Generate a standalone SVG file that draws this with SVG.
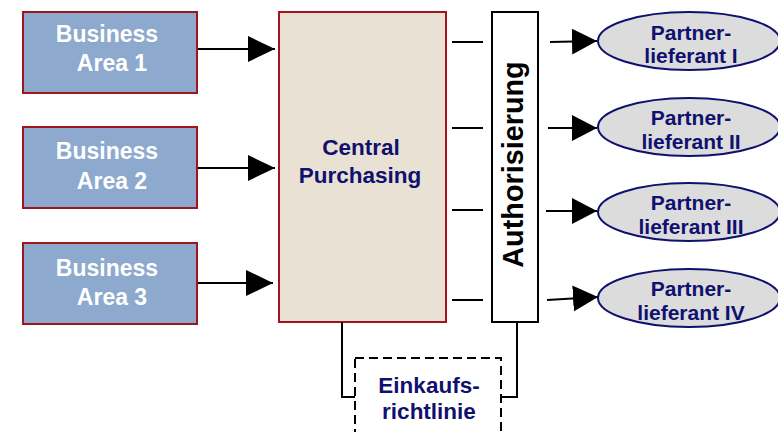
<svg xmlns="http://www.w3.org/2000/svg" width="778" height="432" viewBox="0 0 778 432">
  <style>
    .area { fill: #8DA9CD; stroke: #A0141E; stroke-width: 2; }
    .area-text { font-family: "Liberation Sans", Arial, sans-serif; font-weight: bold; font-size: 23px; fill: #FFFFFF; text-anchor: middle; }
    .navy-text { font-family: "Liberation Sans", Arial, sans-serif; font-weight: bold; fill: #10106E; text-anchor: middle; }
    .partner { fill: #DCDCDC; stroke: #10106E; stroke-width: 2; }
    .link { stroke: #000000; stroke-width: 2; fill: none; }
  </style>
  <defs>
    <marker id="head" markerWidth="27" markerHeight="26" refX="27" refY="13" orient="auto" markerUnits="userSpaceOnUse">
      <path d="M0,0 L27,13 L0,26 Z" fill="#000000"/>
    </marker>
    <marker id="head-small" markerWidth="25" markerHeight="26" refX="25" refY="13" orient="auto" markerUnits="userSpaceOnUse">
      <path d="M0,0 L25,13 L0,26 Z" fill="#000000"/>
    </marker>
  </defs>

  <!-- business areas -->
  <g id="area1">
    <rect class="area" x="23" y="12" width="174" height="81"/>
    <text class="area-text" x="107" y="42">Business</text>
    <text class="area-text" x="112" y="71">Area 1</text>
  </g>
  <g id="area2">
    <rect class="area" x="23" y="127" width="174" height="81"/>
    <text class="area-text" x="107" y="159">Business</text>
    <text class="area-text" x="112" y="189">Area 2</text>
  </g>
  <g id="area3">
    <rect class="area" x="23" y="243" width="174" height="81"/>
    <text class="area-text" x="107" y="276">Business</text>
    <text class="area-text" x="112" y="305">Area 3</text>
  </g>

  <!-- central purchasing -->
  <g id="central">
    <rect x="279" y="12" width="167" height="310" fill="#E9E1D3" stroke="#A0141E" stroke-width="2"/>
    <text class="navy-text" x="361" y="155" font-size="22.5">Central</text>
    <text class="navy-text" x="360" y="183" font-size="22.5">Purchasing</text>
  </g>

  <!-- authorisation -->
  <g id="auth">
    <rect x="492" y="12" width="46" height="310" fill="#FFFFFF" stroke="#000000" stroke-width="2"/>
    <text x="523" y="164.5" transform="rotate(-90 523 164.5)" font-family="Liberation Sans, Arial, sans-serif" font-weight="bold" font-size="28.8" fill="#000000" text-anchor="middle">Authorisierung</text>
  </g>

  <!-- partner suppliers -->
  <g id="partner1">
    <ellipse class="partner" cx="689" cy="41" rx="91" ry="29"/>
    <text class="navy-text" x="691" y="40" font-size="21">Partner-</text>
    <text class="navy-text" x="691" y="63" font-size="21">lieferant I</text>
  </g>
  <g id="partner2">
    <ellipse class="partner" cx="689" cy="127" rx="91" ry="29"/>
    <text class="navy-text" x="691" y="125" font-size="21">Partner-</text>
    <text class="navy-text" x="691" y="149" font-size="21">lieferant II</text>
  </g>
  <g id="partner3">
    <ellipse class="partner" cx="689" cy="212" rx="91" ry="29"/>
    <text class="navy-text" x="691" y="210" font-size="21">Partner-</text>
    <text class="navy-text" x="691" y="234" font-size="21">lieferant III</text>
  </g>
  <g id="partner4">
    <ellipse class="partner" cx="689" cy="298" rx="91" ry="29"/>
    <text class="navy-text" x="691" y="296" font-size="21">Partner-</text>
    <text class="navy-text" x="691" y="320" font-size="21">lieferant IV</text>
  </g>

  <!-- purchasing guideline -->
  <g id="guideline">
    <rect x="355" y="358" width="146" height="90" fill="#FFFFFF" stroke="#000000" stroke-width="2" stroke-dasharray="9 5"/>
    <text class="navy-text" x="429" y="393" font-size="22.5">Einkaufs-</text>
    <text class="navy-text" x="429" y="419" font-size="22.5">richtlinie</text>
  </g>

  <!-- connectors -->
  <g id="connectors">
    <line class="link" x1="198" y1="49" x2="275" y2="49" marker-end="url(#head)"/>
    <line class="link" x1="198" y1="168" x2="275" y2="168" marker-end="url(#head)"/>
    <line class="link" x1="198" y1="283" x2="273" y2="283" marker-end="url(#head)"/>

    <line class="link" x1="452" y1="42" x2="483" y2="42"/>
    <line class="link" x1="452" y1="128" x2="483" y2="128"/>
    <line class="link" x1="452" y1="210" x2="483" y2="210"/>
    <line class="link" x1="452" y1="300" x2="483" y2="300"/>

    <line class="link" x1="550" y1="42" x2="597" y2="41" marker-end="url(#head-small)"/>
    <line class="link" x1="548" y1="128" x2="597" y2="128" marker-end="url(#head-small)"/>
    <line class="link" x1="546" y1="211" x2="597" y2="211" marker-end="url(#head-small)"/>
    <line class="link" x1="547" y1="300" x2="598" y2="297" marker-end="url(#head-small)"/>

    <polyline class="link" points="342,322 342,397 355,397"/>
    <polyline class="link" points="517,322 517,397 501,397"/>
  </g>
</svg>
